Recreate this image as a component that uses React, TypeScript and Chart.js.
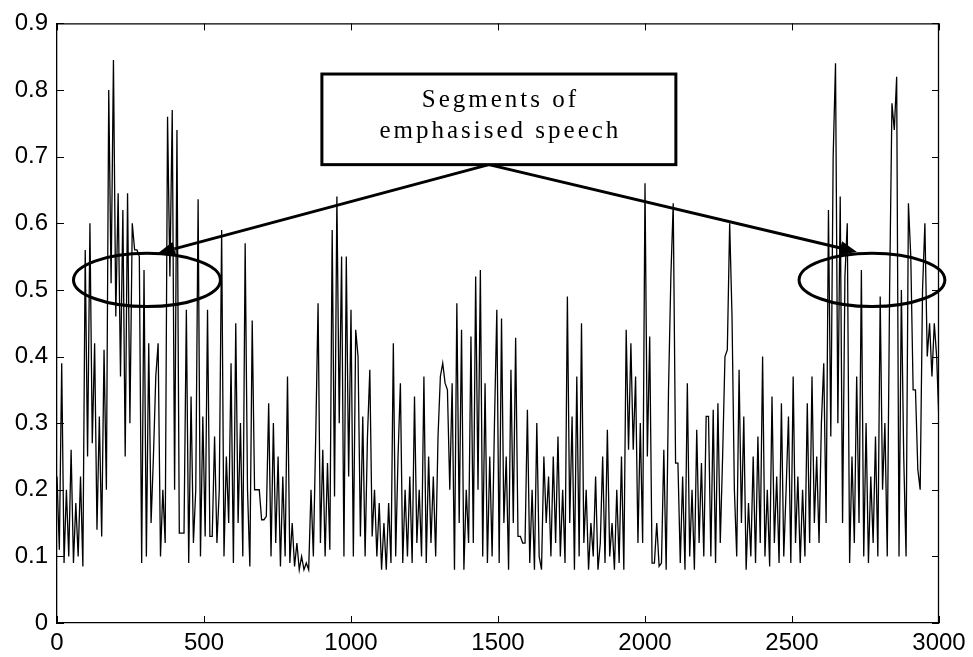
import React, { useEffect, useRef } from "react";
import { Chart, registerables } from "chart.js";

Chart.register(...registerables);

// sample spacing of the series (frame index units)
const STEP = 8;

// normalised measure, one value every STEP frames from 0 to 3000
const measure: number[] = [
  // 0 - 192
  0.22, 0.11, 0.39, 0.09, 0.2, 0.1, 0.26, 0.09, 0.18, 0.1, 0.22, 0.085, 0.56, 0.25, 0.6, 0.27, 0.42, 0.14, 0.31, 0.13, 0.41, 0.2, 0.8, 0.51, 0.845,
  // 200 - 392
  0.46, 0.645, 0.37, 0.62, 0.25, 0.645, 0.3, 0.6, 0.56, 0.56, 0.55, 0.09, 0.53, 0.1, 0.42, 0.15, 0.25, 0.37, 0.42, 0.1, 0.2, 0.12, 0.76, 0.52, 0.77,
  // 400 - 592
  0.2, 0.74, 0.135, 0.135, 0.135, 0.47, 0.09, 0.34, 0.12, 0.2, 0.636, 0.1, 0.31, 0.13, 0.47, 0.13, 0.13, 0.28, 0.12, 0.2, 0.59, 0.1, 0.25, 0.15, 0.39,
  // 600 - 792
  0.09, 0.45, 0.15, 0.3, 0.1, 0.57, 0.2, 0.085, 0.454, 0.2, 0.2, 0.2, 0.155, 0.155, 0.16, 0.33, 0.1, 0.3, 0.12, 0.25, 0.085, 0.22, 0.1, 0.37, 0.09,
  // 800 - 992
  0.15, 0.085, 0.12, 0.08, 0.1, 0.08, 0.09, 0.08, 0.2, 0.1, 0.28, 0.48, 0.12, 0.26, 0.1, 0.24, 0.11, 0.59, 0.19, 0.64, 0.3, 0.55, 0.1, 0.55, 0.22,
  // 1000 - 1192
  0.47, 0.1, 0.44, 0.4, 0.13, 0.31, 0.1, 0.28, 0.38, 0.13, 0.2, 0.1, 0.18, 0.08, 0.15, 0.08, 0.18, 0.09, 0.42, 0.1, 0.25, 0.36, 0.09, 0.2, 0.1,
  // 1200 - 1392
  0.22, 0.09, 0.34, 0.12, 0.2, 0.1, 0.37, 0.09, 0.25, 0.12, 0.22, 0.1, 0.28, 0.37, 0.39, 0.36, 0.35, 0.2, 0.36, 0.08, 0.48, 0.15, 0.44, 0.08, 0.2,
  // 1400 - 1592
  0.12, 0.43, 0.12, 0.52, 0.2, 0.53, 0.1, 0.36, 0.09, 0.25, 0.1, 0.3, 0.47, 0.09, 0.457, 0.15, 0.25, 0.08, 0.38, 0.15, 0.428, 0.13, 0.13, 0.12, 0.12,
  // 1600 - 1792
  0.32, 0.09, 0.2, 0.08, 0.3, 0.1, 0.08, 0.25, 0.15, 0.22, 0.1, 0.25, 0.12, 0.28, 0.1, 0.2, 0.09, 0.49, 0.15, 0.31, 0.08, 0.37, 0.1, 0.45, 0.12,
  // 1800 - 1992
  0.2, 0.08, 0.15, 0.1, 0.22, 0.08, 0.12, 0.25, 0.09, 0.29, 0.1, 0.15, 0.08, 0.2, 0.09, 0.25, 0.08, 0.44, 0.26, 0.42, 0.26, 0.37, 0.12, 0.3, 0.12,
  // 2000 - 2192
  0.66, 0.25, 0.43, 0.09, 0.09, 0.15, 0.085, 0.09, 0.26, 0.08, 0.35, 0.52, 0.63, 0.24, 0.24, 0.09, 0.22, 0.08, 0.36, 0.1, 0.2, 0.08, 0.29, 0.12, 0.24,
  // 2200 - 2392
  0.1, 0.31, 0.31, 0.1, 0.32, 0.09, 0.33, 0.12, 0.25, 0.4, 0.41, 0.6, 0.46, 0.2, 0.1, 0.38, 0.15, 0.31, 0.08, 0.18, 0.1, 0.25, 0.09, 0.28, 0.12,
  // 2400 - 2592
  0.4, 0.1, 0.2, 0.085, 0.34, 0.12, 0.22, 0.09, 0.33, 0.1, 0.2, 0.31, 0.09, 0.37, 0.12, 0.22, 0.09, 0.2, 0.1, 0.33, 0.12, 0.37, 0.15, 0.25, 0.12,
  // 2600 - 2792
  0.3, 0.39, 0.15, 0.62, 0.28, 0.7, 0.84, 0.3, 0.64, 0.15, 0.52, 0.6, 0.09, 0.25, 0.12, 0.37, 0.15, 0.53, 0.1, 0.3, 0.09, 0.22, 0.12, 0.28, 0.1,
  // 2800 - 3000
  0.49, 0.2, 0.3, 0.1, 0.5, 0.78, 0.74, 0.82, 0.1, 0.5, 0.25, 0.1, 0.63, 0.55, 0.35, 0.35, 0.23, 0.2, 0.5, 0.6, 0.4, 0.45, 0.37, 0.45, 0.4, 0.3,
];

const xTickValues = [0, 500, 1000, 1500, 2000, 2500, 3000];
const xTickLabels = ["0", "500", "1000", "1500", "2000", "2500", "3000"];
const yTickValues = [0, 0.1, 0.2, 0.3, 0.4, 0.5, 0.6, 0.7, 0.8, 0.9];
const yTickLabels = ["0", "0.1", "0.2", "0.3", "0.4", "0.5", "0.6", "0.7", "0.8", "0.9"];

// annotation, in data units
const calloutLines = ["Segments of", "emphasised speech"];
const calloutBox = { x0: 901, x1: 2105, y0: 0.824, y1: 0.688 };
const arrowFrom = { x: 1469, y: 0.688 };
const arrowTips = [
  { x: 343, y: 0.555 },
  { x: 2721, y: 0.557 },
];
const ellipses = [
  { cx: 306, cy: 0.515, rx: 250, ry: 0.04 },
  { cx: 2772, cy: 0.515, rx: 248, ry: 0.04 },
];

const framePlugin = {
  id: "frameAndNotes",
  afterDatasetsDraw(chart: any) {
    const { ctx, chartArea: a, scales } = chart;
    const x = scales.x;
    const y = scales.y;
    ctx.save();
    // box frame
    ctx.strokeStyle = "#000";
    ctx.lineWidth = 1.3;
    ctx.beginPath();
    ctx.moveTo(a.left, a.top + 0.5);
    ctx.lineTo(a.right - 0.5, a.top + 0.5);
    ctx.lineTo(a.right - 0.5, a.bottom);
    ctx.stroke();
    // inward ticks on all four sides
    const TL = 7;
    ctx.lineWidth = 1;
    ctx.beginPath();
    xTickValues.forEach((v) => {
      const px = Math.round(x.getPixelForValue(v)) + 0.5;
      ctx.moveTo(px, a.bottom);
      ctx.lineTo(px, a.bottom - TL);
      ctx.moveTo(px, a.top);
      ctx.lineTo(px, a.top + TL);
    });
    yTickValues.forEach((v) => {
      const py = Math.round(y.getPixelForValue(v)) + 0.5;
      ctx.moveTo(a.left, py);
      ctx.lineTo(a.left + TL, py);
      ctx.moveTo(a.right, py);
      ctx.lineTo(a.right - TL, py);
    });
    ctx.stroke();

    // ellipses
    ctx.lineWidth = 3;
    ellipses.forEach((e) => {
      const cx = x.getPixelForValue(e.cx);
      const cy = y.getPixelForValue(e.cy);
      const rx = Math.abs(x.getPixelForValue(e.cx + e.rx) - cx);
      const ry = Math.abs(y.getPixelForValue(e.cy + e.ry) - cy);
      ctx.beginPath();
      ctx.ellipse(cx, cy, rx, ry, 0, 0, Math.PI * 2);
      ctx.stroke();
    });

    // arrows
    const fx = x.getPixelForValue(arrowFrom.x);
    const fy = y.getPixelForValue(arrowFrom.y);
    arrowTips.forEach((t) => {
      const tx = x.getPixelForValue(t.x);
      const ty = y.getPixelForValue(t.y);
      const ang = Math.atan2(ty - fy, tx - fx);
      const HL = 17;
      const HW = 7;
      const bx = tx - HL * Math.cos(ang);
      const by = ty - HL * Math.sin(ang);
      ctx.beginPath();
      ctx.moveTo(fx, fy);
      ctx.lineTo(bx, by);
      ctx.stroke();
      ctx.beginPath();
      ctx.moveTo(tx, ty);
      ctx.lineTo(bx + HW * Math.sin(ang), by - HW * Math.cos(ang));
      ctx.lineTo(bx - HW * Math.sin(ang), by + HW * Math.cos(ang));
      ctx.closePath();
      ctx.fillStyle = "#000";
      ctx.fill();
    });

    // callout box
    const bx0 = x.getPixelForValue(calloutBox.x0);
    const bx1 = x.getPixelForValue(calloutBox.x1);
    const by0 = y.getPixelForValue(calloutBox.y0);
    const by1 = y.getPixelForValue(calloutBox.y1);
    ctx.fillStyle = "#fff";
    ctx.fillRect(bx0, by0, bx1 - bx0, by1 - by0);
    ctx.lineWidth = 3;
    ctx.strokeRect(bx0, by0, bx1 - bx0, by1 - by0);
    ctx.fillStyle = "#000";
    ctx.font = '25px "Liberation Serif", "Times New Roman", serif';
    (ctx as any).letterSpacing = "3px";
    ctx.textAlign = "center";
    ctx.textBaseline = "middle";
    const mid = (bx0 + bx1) / 2 + 1.5;
    const h = by1 - by0;
    ctx.fillText(calloutLines[0], mid, by0 + h * 0.29);
    ctx.fillText(calloutLines[1], mid, by0 + h * 0.63);
    ctx.restore();
  },
};

export default function App() {
  const ref = useRef<HTMLCanvasElement | null>(null);
  useEffect(() => {
    document.body.style.margin = "0";
    const points = measure.map((v, i) => ({ x: i * STEP, y: v }));
    const tickFont = { family: '"Liberation Sans", Arial, sans-serif', size: 24 };
    const chart = new Chart(ref.current as HTMLCanvasElement, {
      type: "line",
      data: {
        datasets: [
          {
            data: points,
            borderColor: "#000",
            borderWidth: 1.3,
            pointRadius: 0,
            tension: 0,
            fill: false,
          },
        ],
      },
      options: {
        responsive: false,
        animation: false,
        events: [],
        layout: { padding: { left: 0, top: 20, right: 34, bottom: 0 } },
        plugins: { legend: { display: false }, tooltip: { enabled: false } },
        scales: {
          x: {
            type: "linear",
            min: 0,
            max: 3000,
            afterBuildTicks: (s: any) => {
              s.ticks = xTickValues.map((v) => ({ value: v }));
            },
            afterFit: (s: any) => {
              s.height = 34;
            },
            ticks: {
              color: "#000",
              font: tickFont,
              padding: 6,
              maxRotation: 0,
              autoSkip: false,
              callback: (v: any) => xTickLabels[xTickValues.indexOf(Number(v))] ?? "",
            },
            grid: { display: false, drawTicks: false },
            border: { display: true, color: "#000", width: 1.3 },
          },
          y: {
            type: "linear",
            min: 0,
            max: 0.9,
            afterBuildTicks: (s: any) => {
              s.ticks = yTickValues.map((v) => ({ value: v }));
            },
            afterFit: (s: any) => {
              s.width = 57;
            },
            ticks: {
              color: "#000",
              font: tickFont,
              padding: 9,
              autoSkip: false,
              callback: (v: any) => {
                const i = yTickValues.findIndex((t) => Math.abs(t - Number(v)) < 1e-9);
                return i >= 0 ? yTickLabels[i] : "";
              },
            },
            grid: { display: false, drawTicks: false },
            border: { display: true, color: "#000", width: 1.3 },
          },
        },
      },
      plugins: [framePlugin],
    });
    return () => chart.destroy();
  }, []);
  return (
    <div style={{ width: 973, height: 657, background: "#fff" }}>
      <canvas ref={ref} width={973} height={657} />
    </div>
  );
}
